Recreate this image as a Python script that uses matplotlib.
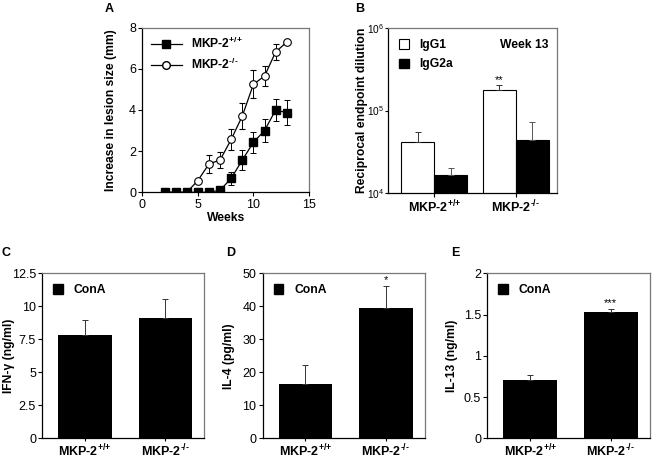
import matplotlib
matplotlib.use("Agg")
import matplotlib.pyplot as plt
from matplotlib.lines import Line2D
from matplotlib.patches import Patch
import numpy as np

plt.rcParams['font.family'] = ['Liberation Sans', 'DejaVu Sans']
plt.rcParams['mathtext.fontset'] = 'custom'
plt.rcParams['mathtext.rm'] = 'Liberation Sans:bold'
plt.rcParams['mathtext.it'] = 'Liberation Sans:bold'
plt.rcParams['mathtext.bf'] = 'Liberation Sans:bold'

# ---- Data ----
weeks = [2, 3, 4, 5, 6, 7, 8, 9, 10, 11, 12, 13]
wt_lesion = [0, 0, 0, 0, 0, 0.1, 0.68, 1.57, 2.43, 3.0, 4.0, 3.87]
wt_lesion_err = [0, 0, 0, 0, 0, 0.05, 0.32, 0.47, 0.52, 0.56, 0.55, 0.6]
ko_lesion = [0, 0, 0, 0.57, 1.38, 1.57, 2.57, 3.71, 5.25, 5.65, 6.82, 7.3]
ko_lesion_err = [0, 0, 0, 0, 0.45, 0.4, 0.5, 0.64, 0.68, 0.5, 0.38, 0.0]

genotypes = [r'MKP-2$^{\text{+/+}}$', r'MKP-2$^{\text{-/-}}$']
igg1 = [41700, 177600]
igg1_err = [12600, 25000]
igg2a = [16400, 43800]
igg2a_err = [3700, 28000]

ifng = [7.85, 9.09]
ifng_err = [1.15, 1.5]
il4 = [16.5, 39.4]
il4_err = [5.8, 6.8]
il13 = [0.707, 1.527]
il13_err = [0.065, 0.037]

W, H = 652, 458
fig = plt.figure(figsize=(W / 100, H / 100), dpi=100)

def ax_px(l, t, r, b):
    return fig.add_axes([l / W, 1 - b / H, (r - l) / W, (b - t) / H])

TICK_FS = 9
LAB_FS = 8.7

def style(ax):
    for s in ['left', 'bottom']:
        ax.spines[s].set_color('black')
        ax.spines[s].set_linewidth(0.9)
    for s in ['top', 'right']:
        ax.spines[s].set_color('#777777')
        ax.spines[s].set_linewidth(0.9)
    ax.tick_params(direction='out', length=3, width=0.8, labelsize=TICK_FS, pad=1.5)

# ---- Panel A ----
axA = ax_px(142.3, 27.7, 309, 192.3)
axA.errorbar(weeks, ko_lesion, yerr=ko_lesion_err, color='black', marker='o', ms=5.5,
             mfc='white', mec='black', mew=0.8, lw=0.9, elinewidth=0.7, capsize=2, capthick=0.7, zorder=3)
axA.errorbar(weeks, wt_lesion, yerr=wt_lesion_err, color='black', marker='s', ms=5.5,
             mfc='black', mec='black', lw=0.9, elinewidth=0.7, capsize=2, capthick=0.7, zorder=4)
axA.set_xlim(0, 15)
axA.set_ylim(0, 8)
axA.set_xticks([0, 5, 10, 15])
axA.set_yticks([0, 2, 4, 6, 8])
axA.set_xlabel('Weeks', fontsize=LAB_FS, fontweight='bold', labelpad=1)
axA.set_ylabel('Increase in lesion size (mm)', fontsize=LAB_FS, fontweight='bold')
axA.yaxis.set_label_coords(-0.15, 0.5)
style(axA)
hA = [Line2D([0], [0], color='black', marker='s', ms=5.5, mfc='black', lw=0.9),
      Line2D([0], [0], color='black', marker='o', ms=5.5, mfc='white', lw=0.9)]
axA.legend(hA, genotypes, loc='upper left', frameon=False,
           prop={'weight': 'bold', 'size': LAB_FS}, handlelength=2.6,
           borderaxespad=0.3, labelspacing=0.45, handletextpad=0.7)

# ---- Panel B ----
axB = ax_px(388, 28.3, 557, 192.7)
x = np.arange(len(genotypes))
bw = 0.404
axB.bar(x - bw / 2, igg1, width=bw, color='white', edgecolor='black', lw=0.8,
        yerr=[[0, 0], igg1_err], error_kw=dict(elinewidth=0.7, capsize=2.5, capthick=0.7, ecolor='#333333'))
axB.bar(x + bw / 2, igg2a, width=bw, color='black', edgecolor='black', lw=0.8,
        yerr=[[0, 0], igg2a_err], error_kw=dict(elinewidth=0.7, capsize=2.5, capthick=0.7, ecolor='#555555'))
axB.set_yscale('log')
axB.set_ylim(1e4, 1e6)
axB.set_xlim(-0.567, 1.506)
axB.set_xticks(x)
axB.set_xticklabels(genotypes, fontsize=LAB_FS, fontweight='bold')
axB.set_yticks([1e4, 1e5, 1e6])
axB.minorticks_off()
axB.set_ylabel('Reciprocal endpoint dilution', fontsize=LAB_FS, fontweight='bold')
axB.yaxis.set_label_coords(-0.117, 0.5)
style(axB)
axB.tick_params(axis='x', pad=1)
axB.tick_params(axis='y', pad=0.5, length=2.5)
axB.set_yticklabels([r'10$^{\mathregular{4}}$', r'10$^{\mathregular{5}}$', r'10$^{\mathregular{6}}$'],
                    fontsize=7.3)
axB.text(1 - bw / 2, igg1[1] + igg1_err[1] * 1.05, '**', ha='center', va='bottom', fontsize=8)
axB.text(0.95, 0.9, 'Week 13', transform=axB.transAxes, ha='right', va='center',
         fontsize=LAB_FS, fontweight='bold')
hB = [Patch(facecolor='white', edgecolor='black', lw=0.8), Patch(facecolor='black', edgecolor='black')]
axB.legend(hB, ['IgG1', 'IgG2a'], loc='upper left', frameon=False,
           prop={'weight': 'bold', 'size': LAB_FS}, handlelength=0.8, handleheight=0.8,
           borderaxespad=0.5, labelspacing=0.6, handletextpad=0.9)

# ---- Panels C, D, E ----
def bar_panel(l, r, vals, errs, ylim, yticks, yticklabels, ylabel, labx, star=None):
    ax = ax_px(l, 273.3, r, 438.3)
    xs = np.arange(len(genotypes))
    ax.bar(xs, vals, width=0.665, color='black',
           yerr=[[0, 0], errs], error_kw=dict(elinewidth=0.7, capsize=2.5, capthick=0.7, ecolor='#333333'))
    ax.set_xlim(-0.532, 1.486)
    ax.set_ylim(*ylim)
    ax.set_xticks(xs)
    ax.set_xticklabels(genotypes, fontsize=LAB_FS, fontweight='bold')
    ax.set_yticks(yticks)
    ax.set_yticklabels(yticklabels)
    ax.set_ylabel(ylabel, fontsize=LAB_FS, fontweight='bold')
    ax.yaxis.set_label_coords(labx, 0.5)
    style(ax)
    ax.tick_params(axis='x', pad=0.5, length=2.5)
    h = [Patch(facecolor='black', edgecolor='black')]
    ax.legend(h, ['ConA'], loc='upper left', frameon=False,
              prop={'weight': 'bold', 'size': LAB_FS}, handlelength=0.8, handleheight=0.8,
              borderaxespad=0.5, handletextpad=0.9)
    if star:
        ax.text(1, vals[1] + errs[1] + (ylim[1] - ylim[0]) * 0.005, star,
                ha='center', va='bottom', fontsize=8)
    return ax

bar_panel(42.3, 204.3, ifng, ifng_err, (0, 12.5), [0, 2.5, 5, 7.5, 10, 12.5],
          ['0', '2.5', '5', '7.5', '10', '12.5'], 'IFN-γ (ng/ml)', -0.169)
bar_panel(262.7, 425, il4, il4_err, (0, 50), [0, 10, 20, 30, 40, 50],
          ['0', '10', '20', '30', '40', '50'], 'IL-4 (pg/ml)', -0.171, star='*')
bar_panel(487.3, 650, il13, il13_err, (0, 2), [0, 0.5, 1, 1.5, 2],
          ['0', '0.5', '1', '1.5', '2'], 'IL-13 (ng/ml)', -0.178, star='***')

# ---- Panel letters ----
for lab, px, py in [('A', 109, 9), ('B', 360, 9), ('C', 6, 253), ('D', 231, 253), ('E', 455, 253)]:
    fig.text(px / W, 1 - py / H, lab, ha='center', va='center', fontsize=9, fontweight='bold')

fig.savefig('out.png', dpi=100)
